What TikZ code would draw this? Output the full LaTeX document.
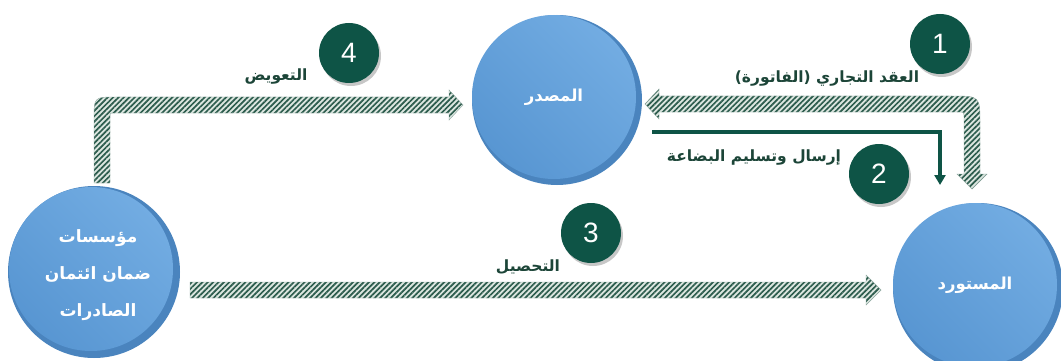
\documentclass[tikz,border=0pt]{standalone}
\usepackage{fontspec}
\setmainfont{Liberation Sans}
\newfontfamily\arabicfont[Script=Arabic]{DejaVu Sans}
\TeXXeTstate=1
\usetikzlibrary{patterns.meta,arrows.meta}
\definecolor{blueL}{HTML}{72ACE2}
\definecolor{blueM}{HTML}{5896D2}
\definecolor{blueD}{HTML}{4A84BE}
\definecolor{numgreen}{HTML}{0E5446}
\definecolor{hatchc}{HTML}{2C5C4D}
\definecolor{hatchbg}{HTML}{DCE6E0}
\definecolor{labelc}{HTML}{1C4538}
\begin{document}
\begin{tikzpicture}[x=1pt,y=-1pt,
  partyrim/.style={fill=blueD},
  ctext/.style={text=white, inner sep=0pt, align=center,
    font=\arabicfont\bfseries\fontsize{16.5}{18}\selectfont},
  party/.style={circle, minimum size=164pt, inner sep=0pt, ctext,
    shading=axis, left color=blueL, right color=blueM, shading angle=-45},
  numc/.style={circle, fill=numgreen, minimum size=60pt, inner sep=0pt, text=white,
    font=\fontsize{28}{28}\selectfont,
    preaction={fill=black, opacity=0.22, transform canvas={shift={(2pt,-3pt)}}}},
  lab/.style={text=labelc, font=\arabicfont\bfseries\fontsize{15.5}{17}\selectfont, inner sep=1pt},
  hatcharrow/.style={preaction={fill=hatchbg},
    pattern={Lines[angle=45,distance=3.8pt,line width=1.7pt]}, pattern color=hatchc,
    draw=hatchc!55, line width=0.4pt},
  ship/.style={draw=numgreen, line width=3.5pt, -{Triangle[length=10pt,width=11pt]}}
]
\useasboundingbox (0,0) rectangle (1061,361);

% parties
\fill[partyrim] (557,100) circle (85);
\node[party] (exp) at (554,97) {\beginR المصدر\endR};
\fill[partyrim] (978,288) circle (85);
\node[party] (imp) at (975,285) {\beginR المستورد\endR};
\fill[partyrim] (94,272) circle (86);
\node[party] (ins) at (91,269) {};
\node[ctext, font=\arabicfont\bfseries\fontsize{17}{19}\selectfont] (instext) at (98,275)
  {\beginR مؤسسات\endR\\[18pt]\beginR ضمان ائتمان\endR\\[18pt]\beginR الصادرات\endR};

% arrow 4 : compensation
\coordinate (a4s) at (102,183);
\coordinate (a4e) at (463,105);
\path[hatcharrow] (94,183) -- (94,119) .. controls (94,97) .. (116,97) -- (449,97) -- (449,90)
  -- (a4e) -- (449,120) -- (449,113) -- (114,113) .. controls (110,113) .. (110,117) -- (110,183) -- cycle;

% arrow 1 : contract (double headed)
\coordinate (a1s) at (645,104);
\coordinate (a1e) at (972,189);
\path[hatcharrow] (a1s) -- (659,89) -- (659,96) -- (952,96) .. controls (980,96) .. (980,124)
  -- (980,174) -- (987,174) -- (a1e) -- (957,174) -- (964,174) -- (964,117)
  .. controls (964,112) .. (959,112) -- (659,112) -- (659,119) -- cycle;

% arrow 3 : collection
\coordinate (a3s) at (190,290);
\coordinate (a3e) at (881,290);
\path[hatcharrow] (190,282) -- (866,282) -- (866,275) -- (a3e) -- (866,305) -- (866,298) -- (190,298) -- cycle;

% line 2 : shipping
\coordinate (l2s) at (652,132);
\coordinate (l2e) at (940,185);
\draw[ship] (l2s) -| (l2e);

% labels
\node[lab] (t4) at (276,77) {\beginR التعويض\endR};
\node[lab] (t1) at (827,79) {\beginR العقد التجاري (الفاتورة)\endR};
\node[lab] (t2) at (754,158) {\beginR إرسال وتسليم البضاعة\endR};
\node[lab] (t3) at (528,267) {\beginR التحصيل\endR};

% numbers
\node[numc] (n4) at (349,53) {4};
\node[numc] (n1) at (940,44) {1};
\node[numc] (n2) at (879,174) {2};
\node[numc] (n3) at (591,233) {3};
\end{tikzpicture}
\end{document}
